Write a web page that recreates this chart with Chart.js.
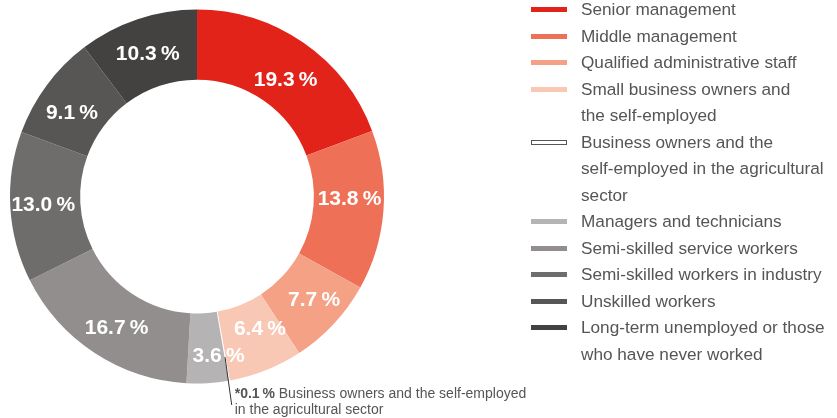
<!DOCTYPE html>
<html>
<head>
<meta charset="utf-8">
<script src="https://cdn.jsdelivr.net/npm/chart.js@4"></script>
<style>
  html, body { margin: 0; padding: 0; background: #fff; }
  #wrap { position: relative; width: 837px; height: 418px; overflow: hidden; }
  #chart { position: absolute; left: 0; top: 0; }
  #legend { position: absolute; left: 531px; top: -4px; font-family: "Liberation Sans", Arial, sans-serif;
            font-size: 17.2px; color: #555; line-height: 26.5px; }
  .item { display: flex; align-items: flex-start; white-space: nowrap; }
  .mark { width: 36px; height: 5px; margin-top: 11px; margin-right: 14px; box-sizing: border-box; flex: none; }
</style>
</head>
<body>
<div id="wrap">
  <canvas id="chart" width="837" height="418"></canvas>
  <div id="legend"></div>
</div>
<script>
document.addEventListener('DOMContentLoaded', function() {
  const categories = [
    ['Senior management'],
    ['Middle management'],
    ['Qualified administrative staff'],
    ['Small business owners and', 'the self-employed'],
    ['Business owners and the', 'self-employed in the agricultural', 'sector'],
    ['Managers and technicians'],
    ['Semi-skilled service workers'],
    ['Semi-skilled workers in industry'],
    ['Unskilled workers'],
    ['Long-term unemployed or those', 'who have never worked']
  ];
  const shares = [19.3, 13.8, 7.7, 6.4, 0.1, 3.6, 16.7, 13.0, 9.1, 10.3];
  const colours = ['#e2231a', '#ee7157', '#f4a186', '#f9c8b5', '#ffffff',
                   '#b5b3b3', '#928e8d', '#6f6c6c', '#575655', '#434241'];
  const footnoteIndex = 4;
  // small hand nudges of the value labels (px), like in the original
  const labelNudge = [[2, 9], [1, -9], [6, 0], [7, -9], [0, 0], [13, 8], [3, 5], [-2, 0], [-3, 7], [-1, 2]];

  function pct(v) { return v.toFixed(1) + '\u2009%'; }

  // labels inside the ring
  const sliceLabels = {
    id: 'sliceLabels',
    afterDatasetsDraw(chart) {
      const ctx = chart.ctx;
      const meta = chart.getDatasetMeta(0);
      ctx.save();
      ctx.font = 'bold 21px "Liberation Sans", Arial, sans-serif';
      ctx.fillStyle = '#fff';
      ctx.textAlign = 'center';
      ctx.textBaseline = 'middle';
      meta.data.forEach(function(arc, i) {
        if (i === footnoteIndex) return;
        const mid = (arc.startAngle + arc.endAngle) / 2;
        const r = (arc.innerRadius + arc.outerRadius) / 2;
        ctx.fillText(pct(shares[i]),
          arc.x + Math.cos(mid) * r + labelNudge[i][0],
          arc.y + Math.sin(mid) * r + labelNudge[i][1]);
      });

      // leader line + footnote for the tiny slice
      const a = meta.data[footnoteIndex];
      const m = (a.startAngle + a.endAngle) / 2;
      const x0 = a.x + Math.cos(m) * (a.outerRadius - 24);
      const y0 = a.y + Math.sin(m) * (a.outerRadius - 24);
      const y1 = 405;
      const x1 = x0 + (y1 - y0) * 0.14;
      ctx.strokeStyle = '#333';
      ctx.lineWidth = 1;
      ctx.beginPath();
      ctx.moveTo(x0, y0);
      ctx.lineTo(x1, y1);
      ctx.stroke();

      ctx.textAlign = 'left';
      ctx.textBaseline = 'alphabetic';
      ctx.fillStyle = '#555';
      const tx = x1 + 3;
      const star = '*' + pct(shares[footnoteIndex]);
      ctx.font = 'bold 14px "Liberation Sans", Arial, sans-serif';
      ctx.fillText(star, tx, 398);
      const w = ctx.measureText(star).width;
      ctx.font = '14px "Liberation Sans", Arial, sans-serif';
      ctx.fillText(' Business owners and the self-employed', tx + w, 398);
      ctx.fillText('in the agricultural sector', tx, 414);
      ctx.restore();
    }
  };

  const ctxPie = document.getElementById('chart').getContext('2d');
  new Chart(ctxPie, {
    type: 'doughnut',
    data: {
      labels: categories,
      datasets: [{
        data: shares,
        backgroundColor: colours,
        borderWidth: 0
      }]
    },
    options: {
      responsive: false,
      animation: false,
      cutout: '62.5%',
      layout: { padding: { left: 10, right: 453, top: 9, bottom: 34 } },
      plugins: {
        legend: { display: false },
        tooltip: { enabled: false }
      }
    },
    plugins: [sliceLabels]
  });

  // html legend built from the same arrays
  const legend = document.getElementById('legend');
  categories.forEach(function(lines, i) {
    const row = document.createElement('div');
    row.className = 'item';
    const mark = document.createElement('span');
    mark.className = 'mark';
    mark.style.background = colours[i];
    if (colours[i] === '#ffffff') mark.style.border = '1px solid #555';
    const txt = document.createElement('span');
    txt.innerHTML = lines.join('<br>');
    row.appendChild(mark);
    row.appendChild(txt);
    legend.appendChild(row);
  });
});
</script>
</body>
</html>
